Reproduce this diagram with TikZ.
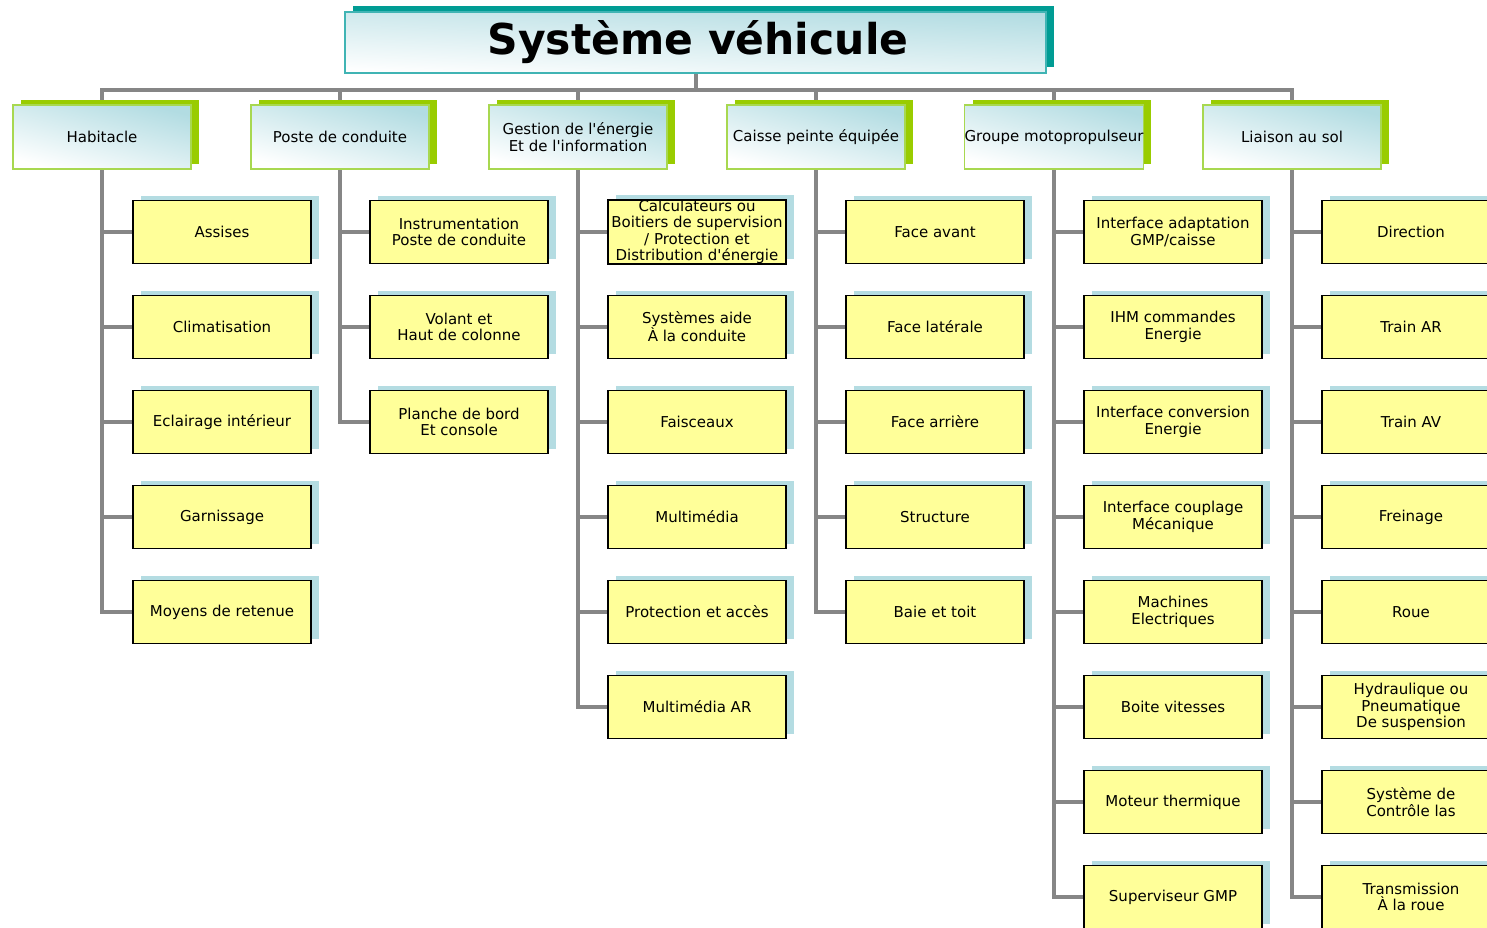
\documentclass[tikz,border=0pt]{standalone}
\usepackage{fontspec}
\setmainfont{DejaVu Sans}[Ligatures=TeXOff]
\usetikzlibrary{shadows}
\definecolor{conncol}{HTML}{868686}
\definecolor{childfill}{HTML}{FFFF99}
\definecolor{childshadow}{HTML}{B4DCE2}
\definecolor{topshadow}{HTML}{99CC00}
\definecolor{topborder}{HTML}{A8D850}
\definecolor{tealpale}{HTML}{B2DCE2}
\definecolor{titleshadow}{HTML}{009C94}
\definecolor{titleborder}{HTML}{40B4B4}
\pgfdeclarelayer{bg}
\pgfdeclarelayer{lines}
\pgfsetlayers{bg,lines,main}
\tikzset{
  conn/.style={draw=conncol, line width=4pt, line join=miter},
  childbox/.style={draw=black, line width=1.8pt, fill=childfill,
    minimum width=178pt, minimum height=63pt, inner sep=0pt, align=center,
    font=\fontsize{15}{16.5}\selectfont,
    drop shadow={shadow xshift=8pt, shadow yshift=5pt, fill=childshadow, opacity=1}},
  topbox/.style={draw=topborder, line width=1.6pt, top color=tealpale, bottom color=white,
    shading angle=-15,
    minimum width=178pt, minimum height=64pt, inner sep=0pt, align=center,
    font=\fontsize{15}{16.5}\selectfont,
    drop shadow={shadow xshift=8pt, shadow yshift=5pt, fill=topshadow, opacity=1}},
  titlebox/.style={draw=titleborder, line width=1.8pt, top color=tealpale, bottom color=white,
    shading angle=-3,
    minimum width=701pt, minimum height=61pt, inner sep=0pt, align=center,
    font=\fontsize{42.5}{46}\bfseries,
    drop shadow={shadow xshift=8pt, shadow yshift=6pt, fill=titleshadow, opacity=1}},
}
\begin{document}
\begin{tikzpicture}[x=1pt,y=-1pt]
\useasboundingbox (0,0) rectangle (1487,927);
\begin{pgfonlayer}{bg}
\fill[white] (0,0) rectangle (1487,927);
\end{pgfonlayer}
\clip (0,0) rectangle (1487,927);

\node[titlebox] (title) at (695.5,42.5) {\hspace*{5pt}Système véhicule\raisebox{0pt}[0pt][0pt]{}};

\node[topbox] (hab) at (102,137) {Habitacle};
\node[topbox] (pos) at (340,137) {Poste de conduite};
\node[topbox] (ges) at (578,137) {Gestion de l'énergie\\Et de l'information};
\node[topbox] (cai) at (816,137) {Caisse peinte équipée};
\node[topbox] (grp) at (1054,137) {Groupe motopropulseur};
\node[topbox] (lia) at (1292,137) {Liaison au sol};

% Habitacle
\node[childbox] (h1) at (222,232) {Assises};
\node[childbox] (h2) at (222,327) {Climatisation};
\node[childbox] (h3) at (222,422) {Eclairage intérieur};
\node[childbox] (h4) at (222,517) {Garnissage};
\node[childbox] (h5) at (222,612) {Moyens de retenue};
% Poste de conduite
\node[childbox] (p1) at (459,232) {Instrumentation\\Poste de conduite};
\node[childbox] (p2) at (459,327) {Volant et\\Haut de colonne};
\node[childbox] (p3) at (459,422) {Planche de bord\\Et console};
% Gestion
\node[childbox] (g1) at (697,232) {Calculateurs ou\\Boitiers de supervision\\/ Protection et\\Distribution d'énergie};
\node[childbox] (g2) at (697,327) {Systèmes aide\\À la conduite};
\node[childbox] (g3) at (697,422) {Faisceaux};
\node[childbox] (g4) at (697,517) {Multimédia};
\node[childbox] (g5) at (697,612) {Protection et accès};
\node[childbox] (g6) at (697,707) {Multimédia AR};
% Caisse
\node[childbox] (c1) at (935,232) {Face avant};
\node[childbox] (c2) at (935,327) {Face latérale};
\node[childbox] (c3) at (935,422) {Face arrière};
\node[childbox] (c4) at (935,517) {Structure};
\node[childbox] (c5) at (935,612) {Baie et toit};
% Groupe motopropulseur
\node[childbox] (m1) at (1173,232) {Interface adaptation\\GMP/caisse};
\node[childbox] (m2) at (1173,327) {IHM commandes\\Energie};
\node[childbox] (m3) at (1173,422) {Interface conversion\\Energie};
\node[childbox] (m4) at (1173,517) {Interface couplage\\Mécanique};
\node[childbox] (m5) at (1173,612) {Machines\\Electriques};
\node[childbox] (m6) at (1173,707) {Boite vitesses};
\node[childbox] (m7) at (1173,802) {Moteur thermique};
\node[childbox] (m8) at (1173,897) {Superviseur GMP};
% Liaison au sol
\node[childbox] (l1) at (1411,232) {Direction};
\node[childbox] (l2) at (1411,327) {Train AR};
\node[childbox] (l3) at (1411,422) {Train AV};
\node[childbox] (l4) at (1411,517) {Freinage};
\node[childbox] (l5) at (1411,612) {Roue};
\node[childbox] (l6) at (1411,707) {Hydraulique ou\\Pneumatique\\De suspension};
\node[childbox] (l7) at (1411,802) {Système de\\Contrôle las};
\node[childbox] (l8) at (1411,897) {Transmission\\À la roue};

\coordinate (bus) at (0,90);
\begin{pgfonlayer}{lines}
\draw[conn] (hab.north) -- (hab.north |- bus) -- (lia.north |- bus) -- (lia.north);
\foreach \n in {title,pos,ges,cai,grp} \draw[conn] (\n.center) -- (\n.center |- bus);
\foreach \i in {1,...,5} \draw[conn] (hab.center) |- (h\i.west);
\foreach \i in {1,...,3} \draw[conn] (pos.center) |- (p\i.west);
\foreach \i in {1,...,6} \draw[conn] (ges.center) |- (g\i.west);
\foreach \i in {1,...,5} \draw[conn] (cai.center) |- (c\i.west);
\foreach \i in {1,...,8} \draw[conn] (grp.center) |- (m\i.west);
\foreach \i in {1,...,8} \draw[conn] (lia.center) |- (l\i.west);
\end{pgfonlayer}
\end{tikzpicture}
\end{document}
